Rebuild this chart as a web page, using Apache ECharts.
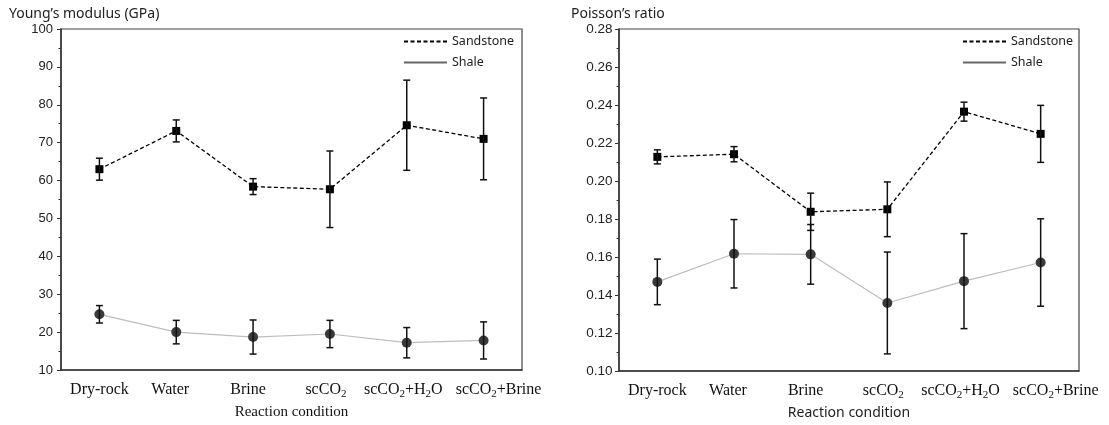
<!DOCTYPE html>
<html lang="en">
<head>
    <meta charset="UTF-8">
    <title>Young's modulus and Poisson's ratio</title>
    <script src="https://cdn.jsdelivr.net/npm/echarts@6/dist/echarts.min.js"></script>
    <style>
        html, body { margin: 0; padding: 0; background: #fff; }
        #chart { width: 1109px; height: 425px; }
    </style>
</head>
<body>
    <div id="chart"></div>

    <script>
        // categories (reaction condition)
        const categories = ['Dry-rock', 'Water', 'Brine', 'scCO2', 'scCO2+H2O', 'scCO2+Brine'];

        // Young's modulus (GPa), mean and error
        const sandYM = [63.0, 73.1, 58.4, 57.7, 74.6, 71.0];
        const sandYMErr = [2.9, 2.9, 2.1, 10.1, 11.9, 10.8];
        const shaleYM = [24.7, 20.0, 18.7, 19.5, 17.2, 17.8];
        const shaleYMErr = [2.3, 3.1, 4.5, 3.6, 4.0, 4.9];

        // Poisson's ratio, mean and error
        const sandPR = [0.2127, 0.2141, 0.1838, 0.1851, 0.2365, 0.2248];
        const sandPRErr = [0.0037, 0.0040, 0.0098, 0.0144, 0.0050, 0.0150];
        const shalePR = [0.1469, 0.1617, 0.1614, 0.1358, 0.1473, 0.1571];
        const shalePRErr = [0.0120, 0.0180, 0.0157, 0.0268, 0.0250, 0.0230];

        const axisColor = '#333';
        const sandLine = { color: '#000', width: 1.3, type: [4, 2.5] };
        const shaleLine = { color: '#bdbdbd', width: 1.2 };

        // the category labels in the figure sit a little off their ticks (px, + = right)
        const labelShift = [0, -6, -5, -4, -3.5, 15];

        // [index, low, high] for the error bars
        function errData(mean, err) {
            return mean.map(function (m, i) { return [i, m - err[i], m + err[i]]; });
        }

        function errRender(params, api) {
            let top = api.coord([api.value(0), api.value(2)]);
            let bot = api.coord([api.value(0), api.value(1)]);
            let w = 3.5;
            let st = { stroke: '#111', lineWidth: 1.5 };
            return {
                type: 'group',
                children: [
                    { type: 'line', shape: { x1: top[0], y1: top[1], x2: bot[0], y2: bot[1] }, style: st },
                    { type: 'line', shape: { x1: top[0] - w, y1: top[1], x2: top[0] + w, y2: top[1] }, style: st },
                    { type: 'line', shape: { x1: bot[0] - w, y1: bot[1], x2: bot[0] + w, y2: bot[1] }, style: st }
                ]
            };
        }

        // rich styles: normal text, subscript "2", plus padded variants for the shift
        const baseTxt = { fontFamily: 'Liberation Serif', fontSize: 16, lineHeight: 20, color: '#111' };
        const subTxt = { fontFamily: 'Liberation Serif', fontSize: 11, lineHeight: 10, verticalAlign: 'bottom', color: '#111' };
        const catRich = { n: baseTxt, s: subTxt };
        labelShift.forEach(function (d, i) {
            let l = Math.max(0, 2 * d), r = Math.max(0, -2 * d);
            catRich['f' + i] = Object.assign({}, baseTxt, { padding: [0, 0, 0, l] });
            catRich['e' + i] = Object.assign({}, baseTxt, { padding: [0, r, 0, 0] });
            catRich['se' + i] = Object.assign({}, subTxt, { padding: [0, r, 0, 0] });
            catRich['b' + i] = Object.assign({}, baseTxt, { padding: [0, r, 0, l] });
        });

        function catLabel(v, i) {
            let bits = v.split(/(2)/).filter(function (b) { return b !== ''; });
            return bits.map(function (b, k) {
                let sub = b === '2';
                let name = sub ? 's' : 'n';
                if (bits.length === 1) name = 'b' + i;
                else if (k === 0) name = 'f' + i;
                else if (k === bits.length - 1) name = (sub ? 'se' : 'e') + i;
                return '{' + name + '|' + b + '}';
            }).join('');
        }

        function mainX(gridIndex, nameStyle) {
            return {
                type: 'category',
                gridIndex: gridIndex,
                position: 'bottom',
                data: categories,
                name: 'Reaction condition',
                nameLocation: 'middle',
                nameGap: 35,
                nameTextStyle: nameStyle,
                axisLine: { lineStyle: { color: axisColor, width: 1.5 } },
                axisTick: { alignWithLabel: true, length: 4, lineStyle: { color: axisColor } },
                axisLabel: {
                    interval: 0,
                    margin: 10,
                    color: '#111',
                    fontFamily: 'Liberation Serif',
                    fontSize: 16,
                    lineHeight: 20,
                    formatter: catLabel,
                    rich: catRich
                },
                splitLine: { show: false }
            };
        }

        // second category axis only to draw the short ticks between categories
        function minorX(gridIndex) {
            return {
                type: 'category',
                gridIndex: gridIndex,
                position: 'bottom',
                data: categories,
                axisLine: { show: false },
                axisTick: { length: 2.5, lineStyle: { color: axisColor } },
                axisLabel: { show: false },
                splitLine: { show: false }
            };
        }

        function yAxisOf(gridIndex, min, max, interval, fontSize, margin, fmt) {
            return {
                type: 'value',
                gridIndex: gridIndex,
                min: min,
                max: max,
                interval: interval,
                axisLine: { show: true, lineStyle: { color: axisColor, width: 1.5 } },
                axisTick: { show: true, length: 4, lineStyle: { color: axisColor } },
                minorTick: { show: true, splitNumber: 2, length: 2.5, lineStyle: { color: axisColor } },
                axisLabel: { color: '#222', fontFamily: 'Liberation Sans', fontSize: fontSize, margin: margin, formatter: fmt },
                splitLine: { show: false },
                minorSplitLine: { show: false }
            };
        }

        let myChart = echarts.init(document.getElementById('chart'));
        let legendText = { fontFamily: 'Noto Sans', fontSize: 12.5, color: '#222' };
        // hide the marker that line series put in their legend icon
        let legendItem = { color: 'rgba(0,0,0,0)', borderWidth: 0, opacity: 0 };

        let option = {
            animation: false,
            backgroundColor: '#fff',
            title: [
                { text: 'Young’s modulus (GPa)', left: 4, top: 2, textStyle: { fontFamily: 'Noto Sans', fontSize: 14, fontWeight: 'normal', color: '#222' } },
                { text: 'Poisson’s ratio', left: 566, top: 2, textStyle: { fontFamily: 'Noto Sans', fontSize: 14, fontWeight: 'normal', color: '#222' } }
            ],
            legend: [
                { data: ['Sandstone', 'Shale'], orient: 'vertical', left: 398, top: 30, itemWidth: 43, itemHeight: 14, itemGap: 8, itemStyle: legendItem, textStyle: legendText, selectedMode: false },
                { data: ['Sandstone', 'Shale'], orient: 'vertical', left: 957, top: 30, itemWidth: 43, itemHeight: 14, itemGap: 8, itemStyle: legendItem, textStyle: legendText, selectedMode: false }
            ],
            grid: [
                { left: 61, top: 29, width: 461, height: 342, show: true, borderColor: '#444', borderWidth: 1.2 },
                { left: 619, top: 29, width: 460, height: 342, show: true, borderColor: '#444', borderWidth: 1.2 }
            ],
            xAxis: [
                mainX(0, { fontFamily: 'Liberation Serif', fontSize: 15, color: '#111' }),
                minorX(0),
                mainX(1, { fontFamily: 'Noto Sans', fontSize: 14, color: '#222' }),
                minorX(1)
            ],
            yAxis: [
                yAxisOf(0, 10, 100, 10, 13, 8, function (v) { return v; }),
                yAxisOf(1, 0.10, 0.28, 0.02, 13.5, 6.5, function (v) { return v.toFixed(2); })
            ],
            series: [
                // legend-only series
                { name: 'Sandstone', type: 'line', xAxisIndex: 0, yAxisIndex: 0, symbol: 'none', data: [], lineStyle: sandLine, itemStyle: { color: '#000' } },
                { name: 'Shale', type: 'line', xAxisIndex: 0, yAxisIndex: 0, symbol: 'none', data: [], lineStyle: { color: '#666', width: 1.2 }, itemStyle: { color: '#666' } },

                // Young's modulus
                { name: 'sandYM', type: 'line', xAxisIndex: 0, yAxisIndex: 0, data: sandYM, symbol: 'rect', symbolSize: 8, itemStyle: { color: '#000' }, lineStyle: sandLine, z: 3 },
                { name: 'shaleYM', type: 'line', xAxisIndex: 0, yAxisIndex: 0, data: shaleYM, symbol: 'circle', symbolSize: 10, itemStyle: { color: '#3a3a3a' }, lineStyle: shaleLine, z: 3 },
                { name: 'sandYMErr', type: 'custom', xAxisIndex: 0, yAxisIndex: 0, renderItem: errRender, encode: { x: 0, y: [1, 2] }, data: errData(sandYM, sandYMErr), z: 4 },
                { name: 'shaleYMErr', type: 'custom', xAxisIndex: 0, yAxisIndex: 0, renderItem: errRender, encode: { x: 0, y: [1, 2] }, data: errData(shaleYM, shaleYMErr), z: 4 },

                // Poisson's ratio
                { name: 'sandPR', type: 'line', xAxisIndex: 2, yAxisIndex: 1, data: sandPR, symbol: 'rect', symbolSize: 8, itemStyle: { color: '#000' }, lineStyle: sandLine, z: 3 },
                { name: 'shalePR', type: 'line', xAxisIndex: 2, yAxisIndex: 1, data: shalePR, symbol: 'circle', symbolSize: 10, itemStyle: { color: '#3a3a3a' }, lineStyle: shaleLine, z: 3 },
                { name: 'sandPRErr', type: 'custom', xAxisIndex: 2, yAxisIndex: 1, renderItem: errRender, encode: { x: 0, y: [1, 2] }, data: errData(sandPR, sandPRErr), z: 4 },
                { name: 'shalePRErr', type: 'custom', xAxisIndex: 2, yAxisIndex: 1, renderItem: errRender, encode: { x: 0, y: [1, 2] }, data: errData(shalePR, shalePRErr), z: 4 }
            ]
        };
        myChart.setOption(option);
    </script>
</body>
</html>
